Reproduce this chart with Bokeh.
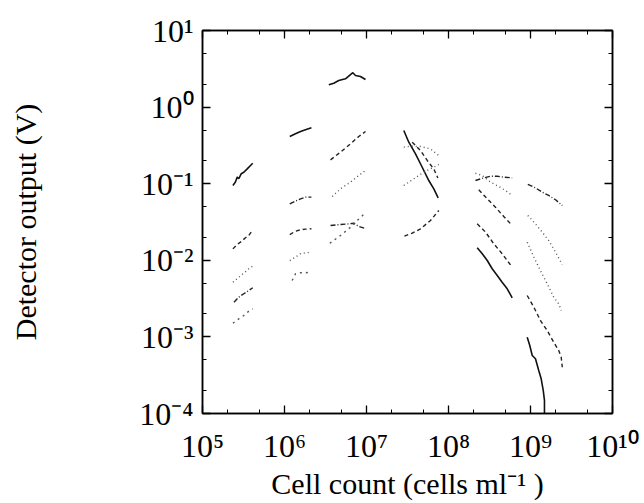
from bokeh.plotting import figure
from bokeh.models import LogAxis, FixedTicker, Range1d
from bokeh.embed import file_html
from bokeh.resources import INLINE

# ---- axis ticks ----
x_ticks = [1e5, 1e6, 1e7, 1e8, 1e9, 1e10]
x_tick_labels = ["10⁵", "10⁶", "10⁷", "10⁸", "10⁹", "10¹⁰"]
x_minor = [2e5, 5e5, 2e6, 5e6, 2e7, 5e7, 2e8, 5e8, 2e9, 5e9]
y_ticks = [1e-4, 1e-3, 1e-2, 1e-1, 1e0, 1e1]
y_tick_labels = ["10⁻⁴", "10⁻³", "10⁻²", "10⁻¹", "10⁰", "10¹"]
y_minor = [2e-4, 5e-4, 2e-3, 5e-3, 2e-2, 5e-2, 2e-1, 5e-1, 2e0, 5e0]

# ---- data: cell count (cells/ml) vs detector output (V), one list per trace ----
solid_counts = [
    [2.35e5, 2.52e5, 2.65e5, 2.77e5, 2.97e5, 3.19e5, 3.51e5, 3.85e5, 4.1e5],
    [1.16e6, 1.36e6, 1.57e6, 1.80e6, 2.13e6],
    [3.47e6, 3.99e6, 4.59e6, 5.54e6, 6.38e6, 6.81e6, 7.34e6, 8.45e6, 9.72e6],
    [2.85e7, 3.28e7, 3.96e7, 4.78e7, 5.75e7, 6.62e7, 7.48e7],
    [2.24e8, 2.58e8, 2.97e8, 3.41e8, 3.93e8, 4.51e8, 5.2e8, 5.98e8],
    [9.12e8, 9.8e8, 1.05e9, 1.15e9, 1.26e9, 1.35e9, 1.43e9, 1.48e9, 1.48e9],
]
solid_volts = [
    [0.095, 0.105, 0.122, 0.116, 0.135, 0.141, 0.156, 0.173, 0.185],
    [0.413, 0.448, 0.48, 0.505, 0.536],
    [1.96, 2.05, 2.22, 2.34, 2.66, 2.81, 2.59, 2.51, 2.29],
    [0.495, 0.348, 0.245, 0.164, 0.110, 0.0857, 0.0655],
    [0.0146, 0.0122, 0.00993, 0.00775, 0.00634, 0.00518, 0.00425, 0.00324],
    [0.00099, 0.000773, 0.000571, 0.000518, 0.000364, 0.000284, 0.0002, 0.000148, 0.00009],
]

dashed_counts = [
    [2.35e5, 2.65e5, 2.97e5, 3.34e5, 3.67e5, 4.04e5],
    [1.16e6, 1.36e6, 1.57e6, 1.80e6, 2.13e6],
    [3.64e6, 4.82e6, 6.38e6, 8.05e6, 9.72e6],
    [3.61e7, 4.56e7, 5.5e7, 6.62e7, 7.41e7],
    [2.9e7, 3.61e7, 4.56e7, 6.03e7, 7.62e7],
    [2.34e8, 2.97e8, 3.74e8, 4.72e8, 5.98e8],
    [2.24e8, 2.83e8, 3.57e8, 4.51e8, 5.98e8],
    [9.12e8, 1.1e9, 1.32e9, 1.6e9, 1.92e9, 2.21e9, 2.37e9, 2.44e9],
]
dashed_volts = [
    [0.0141, 0.0161, 0.0176, 0.0197, 0.0211, 0.0245],
    [0.0217, 0.024, 0.025, 0.0255, 0.0258],
    [0.205, 0.258, 0.332, 0.413, 0.48],
    [0.348, 0.271, 0.201, 0.156, 0.119],
    [0.0207, 0.0226, 0.0258, 0.0331, 0.0447],
    [0.0832, 0.0635, 0.0493, 0.0373, 0.0285],
    [0.0299, 0.0233, 0.0164, 0.0122, 0.00813],
    [0.00347, 0.00244, 0.00164, 0.00121, 0.000853, 0.000664, 0.000543, 0.000402],
]

dotted_counts = [
    [2.35e5, 2.77e5, 3.19e5, 3.67e5, 4.1e5],
    [1.16e6, 1.36e6, 1.57e6, 1.80e6, 2.13e6],
    [3.82e6, 4.82e6, 6.38e6, 8.05e6, 9.72e6],
    [2.85e7, 3.44e7, 4.56e7, 6.03e7, 7.62e7],
    [2.85e7, 3.78e7, 5.0e7, 6.32e7, 7.62e7],
    [2.13e8, 2.58e8, 3.25e8, 4.1e8, 4.95e8, 5.98e8],
    [9.27e8, 1.15e9, 1.39e9, 1.67e9, 2.02e9, 2.44e9],
    [9.12e8, 1.1e9, 1.32e9, 1.6e9, 1.92e9, 2.21e9, 2.37e9],
]
dotted_volts = [
    [0.00518, 0.0060, 0.0068, 0.00775, 0.00838],
    [0.00993, 0.011, 0.0122, 0.0125, 0.0128],
    [0.068, 0.0857, 0.105, 0.128, 0.149],
    [0.30, 0.309, 0.306, 0.285, 0.233],
    [0.0947, 0.116, 0.141, 0.161, 0.178],
    [0.137, 0.128, 0.105, 0.0919, 0.0815, 0.0702],
    [0.0385, 0.0299, 0.0233, 0.0181, 0.0128, 0.0088],
    [0.0172, 0.011, 0.00736, 0.00493, 0.0033, 0.0027, 0.00221],
]

dashdot_counts = [
    [2.42e5, 2.77e5, 3.19e5, 3.67e5, 4.1e5],
    [1.16e6, 1.36e6, 1.57e6, 1.80e6, 2.13e6],
    [3.64e6, 4.82e6, 6.08e6, 7.0e6, 8.05e6, 9.9e6],
    [2.13e8, 2.69e8, 3.25e8, 3.93e8, 4.72e8, 5.98e8],
    [9.27e8, 1.15e9, 1.39e9, 1.67e9, 2.02e9, 2.44e9],
]
dashdot_volts = [
    [0.00284, 0.0033, 0.00366, 0.00403, 0.00438],
    [0.0546, 0.0591, 0.0635, 0.0667, 0.0667],
    [0.0285, 0.0293, 0.0299, 0.0305, 0.0276, 0.0258],
    [0.110, 0.119, 0.125, 0.125, 0.122, 0.119],
    [0.0977, 0.0883, 0.0775, 0.0702, 0.0617, 0.0519],
]

sparse_counts = [
    [2.35e5, 2.77e5, 3.19e5, 3.67e5, 4.1e5],
    [1.24e6, 1.36e6, 1.57e6, 1.80e6, 2.13e6],
    [3.57e6, 4.82e6, 6.38e6, 7.7e6, 9.72e6],
]
sparse_volts = [
    [0.00151, 0.00172, 0.0019, 0.00217, 0.00233],
    [0.00545, 0.00667, 0.00687, 0.00687, 0.0070],
    [0.0167, 0.0211, 0.027, 0.0331, 0.0417],
]

FONT = "Liberation Serif"

p = figure(width=644, height=503, x_axis_type="log", y_axis_type="log",
           x_range=Range1d(1e5, 1e10), y_range=Range1d(1e-4, 1e1),
           output_backend="svg", toolbar_location=None,
           min_border_left=202, min_border_right=32,
           min_border_top=30, min_border_bottom=90)
p.grid.visible = False
p.background_fill_color = "white"
p.border_fill_color = "white"
p.outline_line_color = "black"
p.outline_line_width = 1.5

p.multi_line(solid_counts, solid_volts, line_color="#111111", line_width=1.6)
p.multi_line(dashed_counts, dashed_volts, line_color="#222222", line_width=1.4, line_dash="4 3")
p.multi_line(dotted_counts, dotted_volts, line_color="#555555", line_width=1.4, line_dash="1 3")
p.multi_line(dashdot_counts, dashdot_volts, line_color="#222222", line_width=1.4, line_dash="5 2 1 2")
p.multi_line(sparse_counts, sparse_volts, line_color="#555555", line_width=1.4, line_dash="2 4")

def style_axis(ax, ticks, minor):
    ax.ticker = FixedTicker(ticks=ticks, minor_ticks=minor)
    ax.major_tick_in = 8
    ax.major_tick_out = 0
    ax.minor_tick_in = 4
    ax.minor_tick_out = 0
    ax.major_tick_line_color = "black"
    ax.minor_tick_line_color = "black"
    ax.major_tick_line_width = 1.3
    ax.axis_line_color = "black"
    ax.axis_line_width = 1.5

xa = p.xaxis[0]
ya = p.yaxis[0]
style_axis(xa, x_ticks, x_minor)
style_axis(ya, y_ticks, y_minor)
xa.major_label_overrides = dict(zip(x_ticks, x_tick_labels))
ya.major_label_overrides = dict(zip(y_ticks, y_tick_labels))
for ax in (xa, ya):
    ax.major_label_text_font = FONT
    ax.major_label_text_font_size = "32px"
    ax.major_label_text_color = "black"
    ax.axis_label_text_font = FONT
    ax.axis_label_text_font_size = "30px"
    ax.axis_label_text_font_style = "normal"
    ax.axis_label_text_color = "black"
xa.axis_label = "Cell count (cells ml⁻¹ )"
ya.axis_label = "Detector output (V)"
xa.major_label_standoff = 14
xa.axis_label_standoff = 0
ya.major_label_standoff = 9
ya.axis_label_standoff = 94

top = LogAxis()
right = LogAxis()
style_axis(top, x_ticks, x_minor)
style_axis(right, y_ticks, y_minor)
for ax in (top, right):
    ax.major_label_text_font_size = "0px"
    ax.major_label_text_color = None
    ax.major_label_standoff = 0
p.add_layout(top, "above")
p.add_layout(right, "right")

open("out.html", "w").write(file_html(p, INLINE))
